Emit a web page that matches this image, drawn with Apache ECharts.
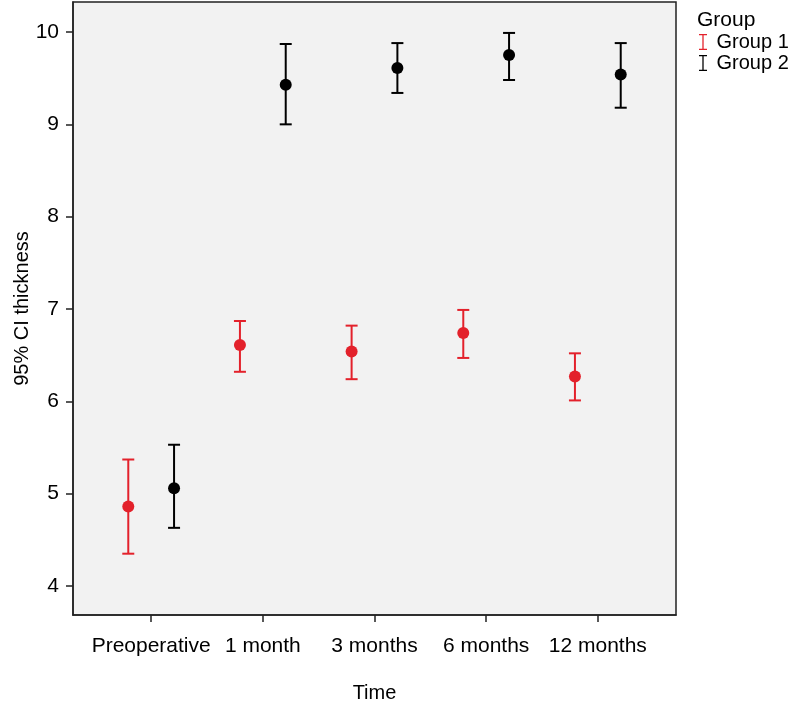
<!DOCTYPE html>
<html>
<head>
<meta charset="utf-8">
<script src="https://cdn.jsdelivr.net/npm/echarts@6/dist/echarts.min.js"></script>
<style>
html,body{margin:0;padding:0;background:#fff;}
#c{width:800px;height:706px;}
</style>
</head>
<body>
<div id="c"></div>
<script>
var categories = ['Preoperative', '1 month', '3 months', '6 months', '12 months'];
var yTicks = [4, 5, 6, 7, 8, 9, 10];
var group1Mean = [4.86, 6.61, 6.54, 6.74, 6.27];
var group1Lower = [4.35, 6.32, 6.24, 6.47, 6.01];
var group1Upper = [5.37, 6.87, 6.82, 6.99, 6.52];
var group2Mean = [5.06, 9.43, 9.61, 9.75, 9.54];
var group2Lower = [4.63, 9.00, 9.34, 9.48, 9.18];
var group2Upper = [5.53, 9.87, 9.88, 9.99, 9.88];

var RED = '#e3212b';
var BLACK = '#000000';
var DODGE = 0.205;
var FONT = 'Liberation Sans, Arial, sans-serif';

function pts(mean, off) {
  return mean.map(function (v, i) { return [i + off, v]; });
}
function bars(lo, hi, off) {
  return lo.map(function (v, i) { return [i + off, v, hi[i]]; });
}
function errRender(color) {
  return function (params, api) {
    var x = api.value(0);
    var lo = api.coord([x, api.value(1)]);
    var hi = api.coord([x, api.value(2)]);
    var hw = 6;
    var st = { stroke: color, lineWidth: 2 };
    return {
      type: 'group',
      children: [
        { type: 'line', shape: { x1: lo[0], y1: lo[1], x2: hi[0], y2: hi[1] }, style: st },
        { type: 'line', shape: { x1: lo[0] - hw, y1: lo[1], x2: lo[0] + hw, y2: lo[1] }, style: st },
        { type: 'line', shape: { x1: hi[0] - hw, y1: hi[1], x2: hi[0] + hw, y2: hi[1] }, style: st }
      ]
    };
  };
}

var ibeam = 'path://M0,0h10v1.6h-4.2v16.8h4.2v1.6h-10v-1.6h4.2v-16.8h-4.2z';

var chart = echarts.init(document.getElementById('c'), null, { renderer: 'canvas' });
chart.setOption({
  animation: false,
  backgroundColor: '#ffffff',
  textStyle: { fontFamily: FONT },
  title: {
    text: 'Group', left: 697, top: 10, padding: 0,
    textStyle: { fontFamily: FONT, fontSize: 21, fontWeight: 'normal', color: '#000' }
  },
  legend: {
    orient: 'vertical', left: 699, top: 32, itemGap: 1, padding: 0,
    itemWidth: 9, itemHeight: 16,
    data: [
      { name: 'Group 1', icon: ibeam, itemStyle: { color: RED } },
      { name: 'Group 2', icon: ibeam, itemStyle: { color: BLACK } }
    ],
    textStyle: { fontFamily: FONT, fontSize: 20, color: '#000', padding: [0, 0, 0, 4] }
  },
  grid: {
    left: 73, right: 124, top: 2, bottom: 91,
    outerBoundsMode: 'none', containLabel: false,
    show: true, backgroundColor: '#f2f2f2', borderColor: '#222', borderWidth: 1.5
  },
  xAxis: {
    type: 'value', min: -0.7, max: 4.7,
    name: 'Time', nameLocation: 'middle', nameGap: 68, nameMoveOverlap: false,
    nameTextStyle: { fontFamily: FONT, fontSize: 20, color: '#000' },
    axisLine: { show: true, onZero: false, lineStyle: { color: '#222', width: 1.5 } },
    axisTick: { show: true, length: 7, customValues: [0, 1, 2, 3, 4], lineStyle: { color: '#222', width: 1.5 } },
    axisLabel: {
      customValues: [0, 1, 2, 3, 4], margin: 21,
      fontFamily: FONT, fontSize: 21, color: '#000',
      formatter: function (v) { return categories[Math.round(v)]; }
    },
    splitLine: { show: false }
  },
  yAxis: {
    type: 'value', min: 3.686, max: 10.325,
    name: '95% CI thickness', nameLocation: 'middle', nameGap: 41, nameRotate: 90, nameMoveOverlap: false,
    nameTextStyle: { fontFamily: FONT, fontSize: 20, color: '#000' },
    axisLine: { show: true, onZero: false, lineStyle: { color: '#222', width: 1.5 } },
    axisTick: { show: true, length: 7, customValues: yTicks, lineStyle: { color: '#222', width: 1.5 } },
    axisLabel: { customValues: yTicks, margin: 14, fontFamily: FONT, fontSize: 21, color: '#000' },
    splitLine: { show: false }
  },
  series: [
    { name: 'Group 1', type: 'custom', renderItem: errRender(RED), data: bars(group1Lower, group1Upper, -DODGE), itemStyle: { color: RED }, z: 2 },
    { name: 'Group 2', type: 'custom', renderItem: errRender(BLACK), data: bars(group2Lower, group2Upper, DODGE), itemStyle: { color: BLACK }, z: 2 },
    { name: 'Group 1', type: 'scatter', symbolSize: 12, data: pts(group1Mean, -DODGE), itemStyle: { color: RED, opacity: 1 }, z: 3 },
    { name: 'Group 2', type: 'scatter', symbolSize: 12, data: pts(group2Mean, DODGE), itemStyle: { color: BLACK, opacity: 1 }, z: 3 }
  ]
});
</script>
</body>
</html>
